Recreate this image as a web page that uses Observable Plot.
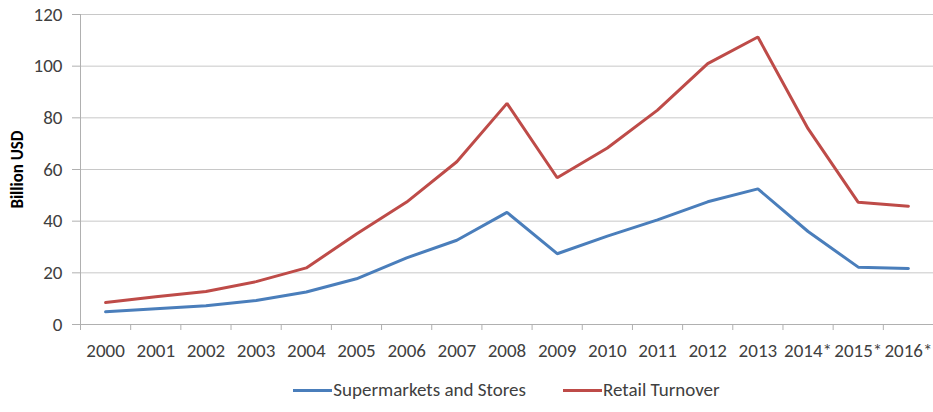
<!DOCTYPE html>
<html>
<head>
<meta charset="utf-8">
<script src="https://cdn.jsdelivr.net/npm/d3@7"></script>
<script src="https://cdn.jsdelivr.net/npm/@observablehq/plot@0.6"></script>
<style>
  html, body { margin: 0; padding: 0; background: #fff; }
  body { width: 933px; height: 412px; overflow: hidden; font-family: Carlito, "Liberation Sans", Arial, sans-serif; color: #404040; }
  #legend { display: flex; justify-content: center; padding-left: 80px; gap: 37px; margin-top: 11px; font-size: 19px; line-height: 22px; }
  .item { display: flex; align-items: center; }
  .swatch { width: 39px; height: 3px; margin-right: 1px; }
</style>
</head>
<body>
<div id="chart"></div>
<div id="legend"></div>
<script>
const years = ["2000","2001","2002","2003","2004","2005","2006","2007","2008","2009","2010","2011","2012","2013","2014*","2015*","2016*"];
const supermarkets = [4.9, 6.1, 7.3, 9.3, 12.6, 17.7, 25.8, 32.6, 43.4, 27.4, 34.2, 40.5, 47.5, 52.5, 36.0, 22.2, 21.7];
const retail = [8.5, 10.7, 12.8, 16.6, 21.9, 35.0, 47.4, 63.0, 85.6, 56.8, 68.3, 83.0, 101.0, 111.3, 75.8, 47.3, 45.8];
const yTicks = [0, 20, 40, 60, 80, 100, 120];
const seriesNames = ["Supermarkets and Stores", "Retail Turnover"];
const seriesColors = ["#4a7ebb", "#be4b48"];

const idx = years.map((_, i) => i);
const boundaries = d3.range(-0.5, years.length, 1);
const data = [
  ...supermarkets.map((v, i) => ({i, v, s: seriesNames[0]})),
  ...retail.map((v, i) => ({i, v, s: seriesNames[1]}))
];

const chart = Plot.plot({
  width: 933,
  height: 368,
  marginTop: 14,
  marginBottom: 44,
  marginLeft: 80,
  marginRight: 0,
  style: {fontFamily: 'Carlito, "Liberation Sans", Arial, sans-serif', fontSize: "19px", color: "#404040", background: "#fff"},
  x: {type: "linear", domain: [-0.5, years.length - 0.5]},
  y: {domain: [0, 120]},
  color: {domain: seriesNames, range: seriesColors},
  marks: [
    Plot.gridY(yTicks, {stroke: "#c8c8c8", strokeOpacity: 1, strokeWidth: 1}),
    Plot.ruleX([-0.5], {stroke: "#b0b0b0", strokeWidth: 1}),
    Plot.ruleY([0], {stroke: "#b0b0b0", strokeWidth: 1}),
    Plot.axisY(yTicks, {tickSize: 8, stroke: "#b0b0b0", tickPadding: 10, fontSize: 19, fill: "#404040", label: null}),
    Plot.axisX(boundaries, {tickSize: 6, stroke: "#b0b0b0", tickFormat: () => "", label: null}),
    Plot.axisX(idx, {tickSize: 0, tickPadding: 19, fontSize: 19, fill: "#404040", tickFormat: i => years[i], label: null}),
    Plot.text(["Billion USD"], {frameAnchor: "left", textAnchor: "middle", rotate: -90, dx: -63, fontWeight: "bold", fontSize: 17, fill: "#000"}),
    Plot.line(data, {x: "i", y: "v", z: "s", stroke: "s", strokeWidth: 3, strokeLinejoin: "miter"})
  ]
});
document.getElementById("chart").appendChild(chart);

const legend = document.getElementById("legend");
seriesNames.forEach((name, k) => {
  const item = document.createElement("div");
  item.className = "item";
  const sw = document.createElement("span");
  sw.className = "swatch";
  sw.style.background = seriesColors[k];
  const label = document.createElement("span");
  label.textContent = name;
  item.appendChild(sw);
  item.appendChild(label);
  legend.appendChild(item);
});
</script>
</body>
</html>
